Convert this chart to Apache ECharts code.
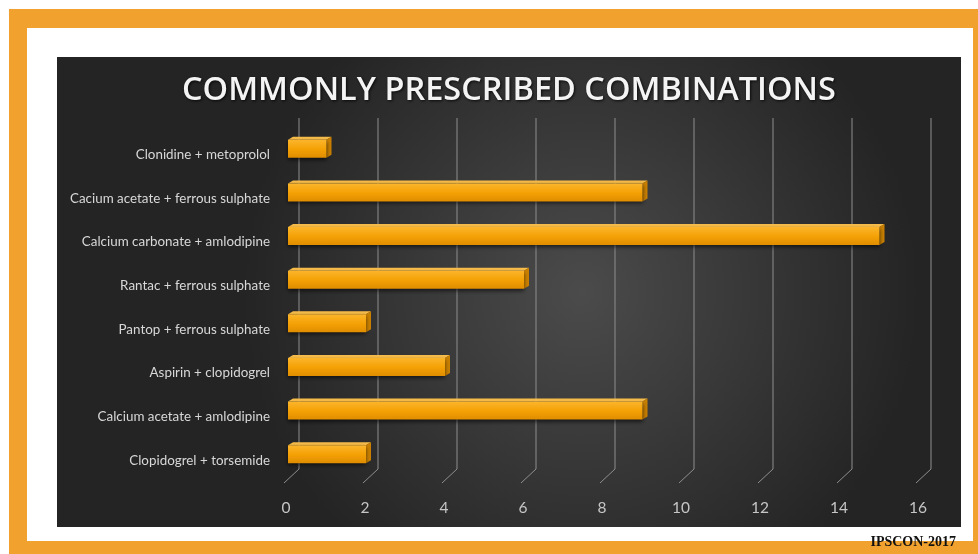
<!DOCTYPE html>
<html>
<head>
<meta charset="utf-8">
<script src="https://cdn.jsdelivr.net/npm/echarts@6/dist/echarts.min.js"></script>
<style>
html,body{margin:0;padding:0;background:#fff;}
#chart{width:978px;height:554px;}
</style>
</head>
<body>
<div id="chart"></div>
<script>
// Data (top to bottom as displayed)
var categories = [
  'Clonidine + metoprolol',
  'Cacium acetate + ferrous sulphate',
  'Calcium carbonate + amlodipine',
  'Rantac + ferrous sulphate',
  'Pantop + ferrous sulphate',
  'Aspirin + clopidogrel',
  'Calcium acetate + amlodipine',
  'Clopidogrel + torsemide'
];
var values = [1, 9, 15, 6, 2, 4, 9, 2];
var xTicks = [0, 2, 4, 6, 8, 10, 12, 14, 16];
var titleText = 'COMMONLY PRESCRIBED COMBINATIONS';
var footerText = 'IPSCON-2017';

var chart = echarts.init(document.getElementById('chart'));

var barData = values.map(function (v, i) { return [v, i]; });
var gridData = xTicks.map(function (t) { return [t, 0]; });

var option = {
  animation: false,
  graphic: [
    { type: 'rect', z: -30, shape: { x: 9, y: 9, width: 969, height: 545 }, style: { fill: '#f0a12e' } },
    { type: 'rect', z: -29, shape: { x: 27, y: 28, width: 946, height: 513 }, style: { fill: '#ffffff' } },
    { type: 'rect', z: -28, shape: { x: 57, y: 57, width: 904, height: 470 },
      style: { fill: new echarts.graphic.RadialGradient(0.58, 0.5, 0.72, [
        { offset: 0, color: '#4b4b4b' },
        { offset: 1, color: '#242424' }
      ]) } },
    { type: 'text', z: 10, left: 182, top: 74,
      style: { text: titleText, fill: '#f4f4f4', font: '600 32.5px "Open Sans"',
        textShadowColor: 'rgba(0,0,0,0.8)', textShadowBlur: 3, textShadowOffsetX: 1, textShadowOffsetY: 1 } },
    { type: 'text', z: 10, right: 22, top: 535,
      style: { text: footerText, fill: '#111', font: 'bold 14px "Liberation Serif"' } }
  ],
  grid: { left: 286, top: 127, width: 632, height: 349 },
  xAxis: {
    type: 'value', min: 0, max: 16, interval: 2,
    axisLine: { show: false }, axisTick: { show: false }, splitLine: { show: false },
    axisLabel: { color: '#c6c6c6', fontFamily: 'Lato', fontSize: 15.5, margin: 24 }
  },
  yAxis: {
    type: 'category', data: categories, inverse: true,
    axisLine: { show: false }, axisTick: { show: false }, splitLine: { show: false },
    axisLabel: { color: '#d8d8d8', fontFamily: 'Lato', fontSize: 13.4, margin: 16,
      verticalAlign: 'top', lineHeight: 12 }
  },
  series: [
    {
      type: 'custom', z: 1, silent: true, data: gridData,
      encode: { x: 0, y: 1 },
      renderItem: function (params, api) {
        var p = api.coord([api.value(0), 0]);
        var cs = params.coordSys;
        var bx = p[0] + 13;
        var yTop = cs.y - 9;
        var yBot = cs.y + cs.height - 7;
        return {
          type: 'polyline',
          shape: { points: [[bx, yTop], [bx, yBot], [p[0] - 2, yBot + 14]] },
          style: { stroke: '#8e8e8e', lineWidth: 1, fill: null }
        };
      }
    },
    {
      type: 'custom', z: 5, data: barData,
      encode: { x: 0, y: 1 },
      renderItem: function (params, api) {
        var c = api.value(1);
        var p0 = api.coord([0, c]);
        var p1 = api.coord([api.value(0), c]);
        var h = 18, dx = 5, dy = -3;
        var top = p0[1] - h / 2, bot = p0[1] + h / 2;
        var x0 = p0[0] + 2, x1 = p1[0] + 1;
        return {
          type: 'group',
          children: [
            { type: 'polygon',
              shape: { points: [[x0, top], [x1, top], [x1 + dx, top + dy], [x0 + dx, top + dy]] },
              style: { fill: '#f8bd4a' } },
            { type: 'polygon',
              shape: { points: [[x1, top], [x1 + dx, top + dy], [x1 + dx, bot + dy], [x1, bot]] },
              style: { fill: '#c98000' } },
            { type: 'rect',
              shape: { x: x0, y: top, width: x1 - x0, height: h },
              style: {
                fill: new echarts.graphic.LinearGradient(0, 0, 0, 1, [
                  { offset: 0, color: '#fbb52c' },
                  { offset: 0.5, color: '#f5a206' },
                  { offset: 1, color: '#e08d00' }
                ]),
                shadowColor: 'rgba(0,0,0,0.6)', shadowBlur: 4, shadowOffsetY: 2
              } }
          ]
        };
      }
    }
  ]
};
chart.setOption(option);
</script>
</body>
</html>
